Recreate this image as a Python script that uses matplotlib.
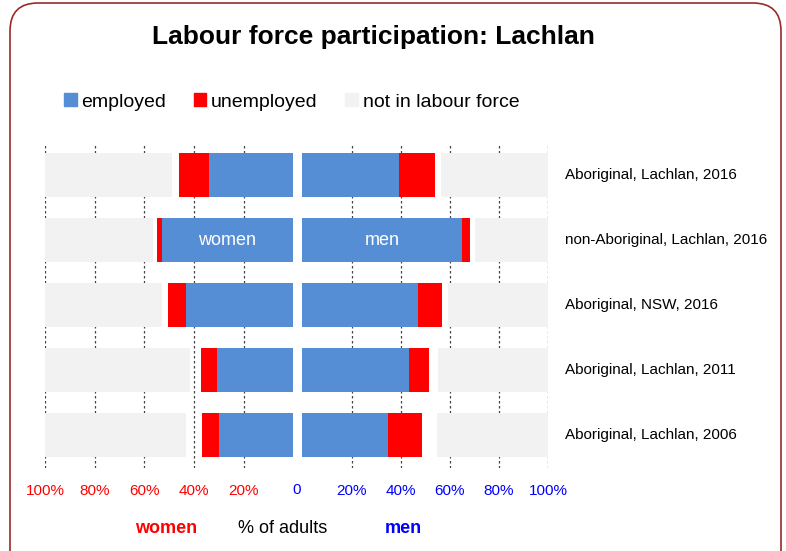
import matplotlib
matplotlib.use("Agg")
import matplotlib.pyplot as plt
from matplotlib.patches import FancyBboxPatch, Patch

plt.rcParams['font.family'] = ['Liberation Sans', 'DejaVu Sans']

# data (% of adults), top row first
groups = ["Aboriginal, Lachlan, 2016", "non-Aboriginal, Lachlan, 2016",
          "Aboriginal, NSW, 2016", "Aboriginal, Lachlan, 2011",
          "Aboriginal, Lachlan, 2006"]
women_employed = [33.9, 53.0, 43.1, 30.7, 29.8]
women_unemployed = [12.1, 1.9, 7.2, 6.5, 6.8]
women_nilf = [51.3, 43.5, 47.0, 58.4, 56.8]
men_employed = [39.4, 64.9, 47.0, 43.2, 34.8]
men_unemployed = [14.4, 3.1, 9.8, 8.3, 14.0]
men_nilf = [43.5, 29.8, 40.8, 45.0, 45.2]

ticks = [0, 20, 40, 60, 80, 100]
tick_labels = ["0", "20%", "40%", "60%", "80%", "100%"]

c_emp = "#558ED5"
c_unemp = "#FF0000"
c_nilf = "#F2F2F2"

fig = plt.figure(figsize=(7.86, 5.51), dpi=100)
ax_w = fig.add_axes([45 / 786, 0.1515, 248.3 / 786, 0.5898])
ax_m = fig.add_axes([302.3 / 786, 0.1515, 246 / 786, 0.5898])

y = list(range(len(groups)))
h = 0.667


def draw(ax, emp, unemp, nilf):
    lefts_n = [100 - n for n in nilf]
    ax.barh(y, emp, height=h, color=c_emp, zorder=3)
    ax.barh(y, unemp, left=emp, height=h, color=c_unemp, zorder=3)
    # not in labour force is pinned to 100%, the gap left over is "not stated"
    ax.barh(y, nilf, left=lefts_n, height=h, color=c_nilf, zorder=3)
    ax.set_ylim(len(groups) - 0.5, -0.5)
    for s in ax.spines.values():
        s.set_visible(False)
    ax.set_yticks([])
    ax.set_xticks(ticks)
    ax.tick_params(axis='x', length=0, pad=12, labelsize=11)
    for t in ticks[1:]:
        ax.axvline(t, color="#444444", ls=(0, (2, 2)), lw=0.9, zorder=1)


draw(ax_w, women_employed, women_unemployed, women_nilf)
ax_w.set_xlim(100, 0)
ax_w.set_xticklabels(["" if t == 0 else l for t, l in zip(ticks, tick_labels)],
                     color="red")

draw(ax_m, men_employed, men_unemployed, men_nilf)
ax_m.set_xlim(0, 100)
ax_m.set_xticklabels(["" if t == 0 else l for t, l in zip(ticks, tick_labels)],
                     color="blue")
# shared zero sits between the two panels
fig.text(0.3775, 0.111, tick_labels[0], color="blue", fontsize=11,
         ha="center", va="center")

ax_w.text(women_employed[1] / 2, 1, "women", color="white", fontsize=13,
          ha="center", va="center", zorder=5)
ax_m.text(men_employed[1] / 2, 1, "men", color="white", fontsize=13,
          ha="center", va="center", zorder=5)

for i, g in enumerate(groups):
    ax_m.text(1.068, i, g, transform=ax_m.get_yaxis_transform(),
              fontsize=11, ha="left", va="center")

fig.text(0.475, 0.933, "Labour force participation: Lachlan",
         fontsize=19, fontweight="bold", ha="center", va="center")

handles = [Patch(color=c_emp), Patch(color=c_unemp), Patch(color=c_nilf)]
fig.legend(handles, ["employed", "unemployed", "not in labour force"],
           loc="center", bbox_to_anchor=(0.371, 0.815), ncol=3, frameon=False,
           fontsize=14, handlelength=0.65, handleheight=0.65,
           handletextpad=0.25, columnspacing=1.4)

fig.text(0.211, 0.04, "women", color="red", fontsize=13, fontweight="bold",
         ha="center", va="center")
fig.text(0.36, 0.04, "% of adults", fontsize=13, ha="center", va="center")
fig.text(0.513, 0.04, "men", color="blue", fontsize=13, fontweight="bold",
         ha="center", va="center")

border = FancyBboxPatch((10, -30), 771, 578, boxstyle="round,pad=0,rounding_size=28",
                        transform=None, fill=False, edgecolor="#9B2A2A", lw=1.2)
fig.patches.append(border)

fig.savefig("out.png", dpi=100)
